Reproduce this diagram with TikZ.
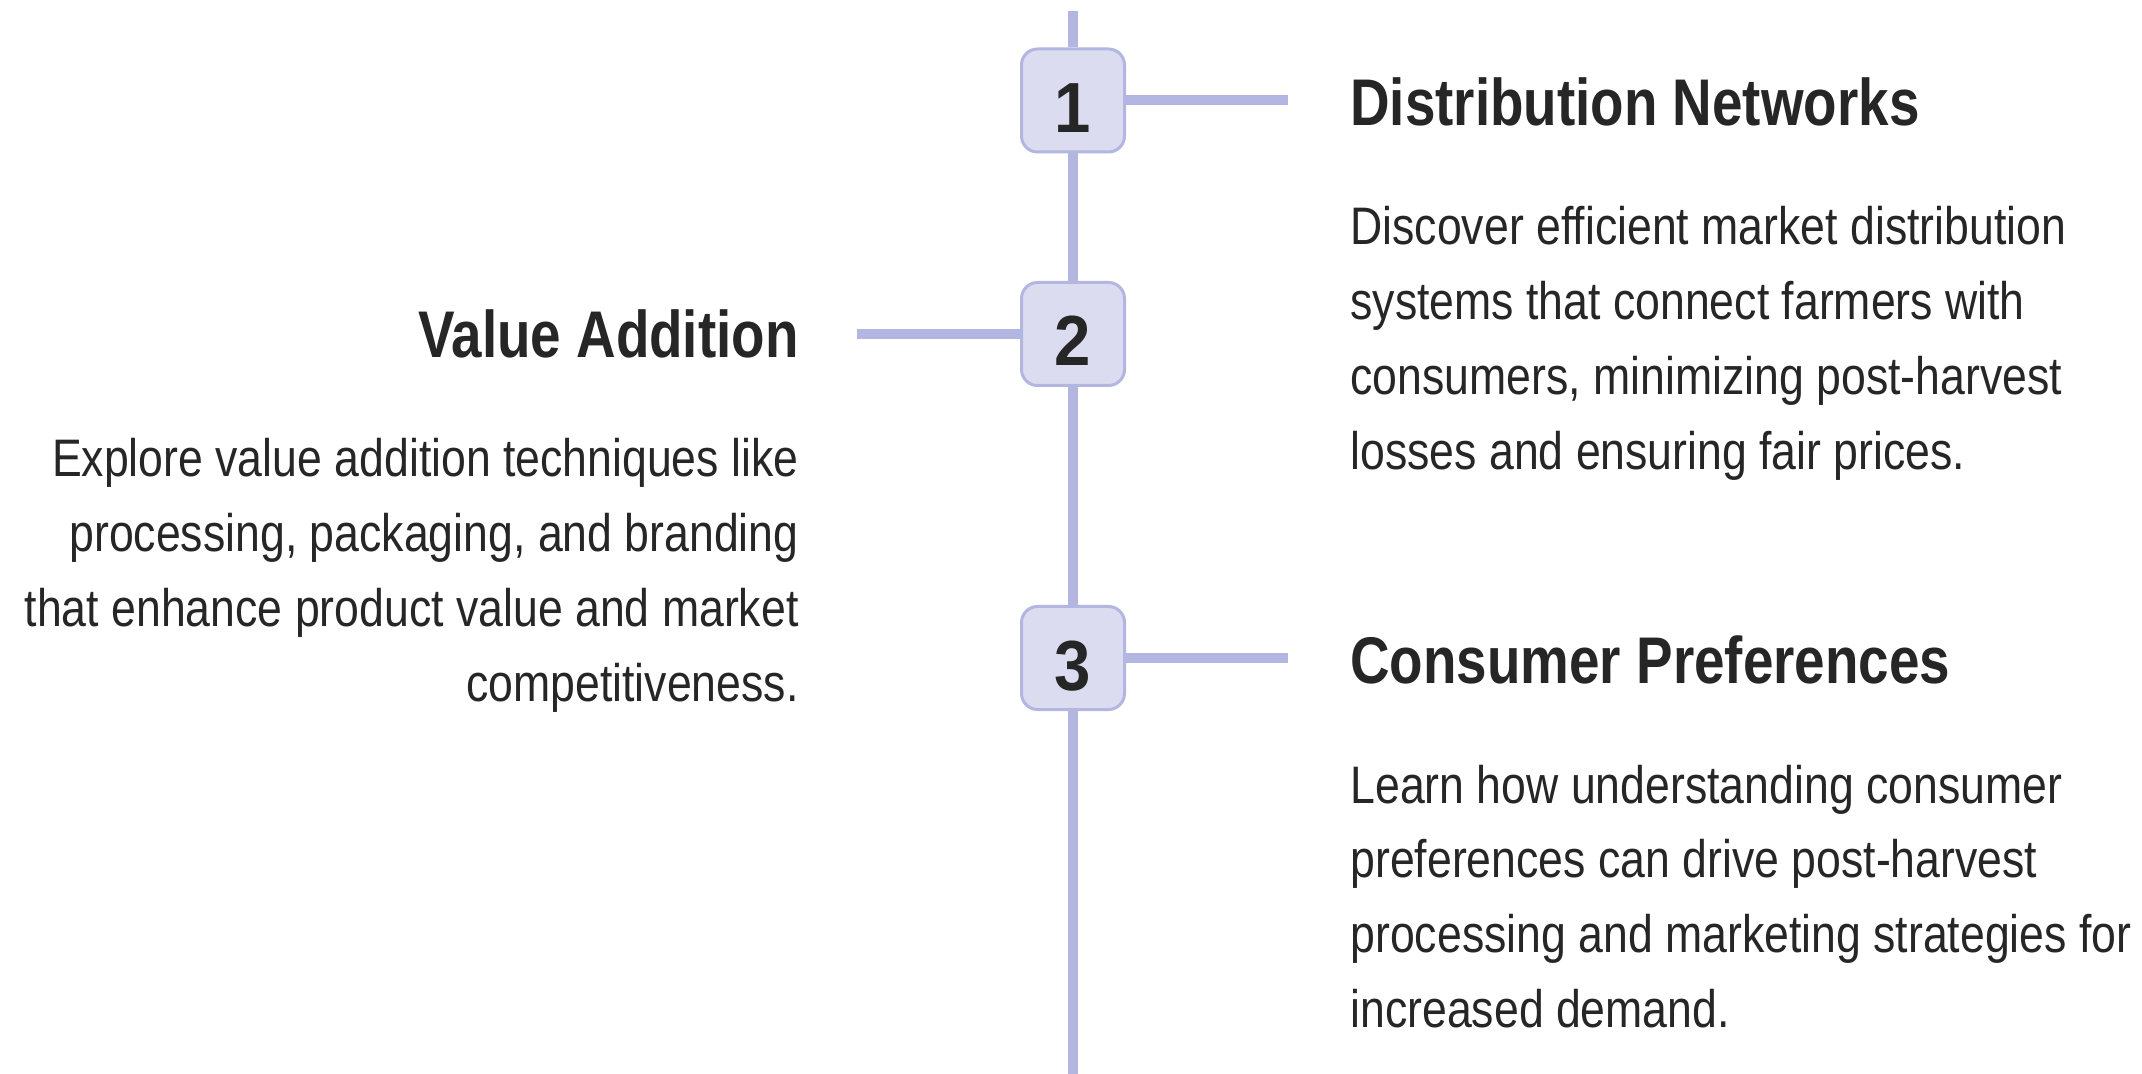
\documentclass[tikz,border=0pt]{standalone}
\usepackage{fontspec}
\setmainfont{Liberation Sans}[FakeStretch=0.83]
\newfontfamily\bodyfont{Liberation Sans}[FakeStretch=0.845]
\newfontfamily\digitfont{Liberation Sans}[FakeStretch=0.92]
\definecolor{lineC}{RGB}{179,182,224}
\definecolor{boxC}{RGB}{220,220,240}
\definecolor{txtC}{RGB}{38,38,38}
\begin{document}
\begin{tikzpicture}[x=0.5pt,y=-0.5pt,
  conn/.style={draw=lineC,line width=5pt},
  numbox/.style={draw=lineC,fill=boxC,line width=1.5pt,rounded corners=8pt,minimum width=51.5pt,minimum height=51.5pt,inner sep=0pt},
  numtxt/.style={font=\digitfont\fontsize{35.5}{40}\selectfont\bfseries,text=txtC,inner sep=0pt,anchor=base},
  ttl/.style={font=\fontsize{33}{38}\selectfont\bfseries,text=txtC,inner sep=0pt},
  body/.style={font=\bodyfont\fontsize{26.4}{30}\selectfont,text=txtC,inner sep=0pt}]
\useasboundingbox[fill=white] (0,0) rectangle (2142,1074);

\coordinate (top) at (1073,11);
\coordinate (bot) at (1073,1074);
\node[numbox] (b1) at (1073,100.5) {};
\node[numbox] (b2) at (1073,334) {};
\node[numbox] (b3) at (1073,658) {};
\coordinate (e1) at (1288,100.5);
\coordinate (e2) at (857,334);
\coordinate (e3) at (1288,658);

\draw[conn] (top) -- (b1.north);
\draw[conn] (b1.south) -- (b2.north);
\draw[conn] (b2.south) -- (b3.north);
\draw[conn] (b3.south) -- (bot);
\draw[conn] (b1.east) -- (e1);
\draw[conn] (b2.west) -- (e2);
\draw[conn] (b3.east) -- (e3);

\node[numtxt] (n1) at (1073,132.5) {1};
\node[numtxt] (n2) at (1073,366) {2};
\node[numtxt] (n3) at (1073,690) {3};

% Distribution Networks
\node[ttl,anchor=base west] (t1) at (1350,126) {Distribution Networks};
\node[body,anchor=base west] (t1a) at (1350,245) {Discover efficient market distribution};
\node[body,anchor=base west] (t1b) at (1350,319.7) {systems that connect farmers with};
\node[body,anchor=base west] (t1c) at (1350,394.4) {consumers, minimizing post-harvest};
\node[body,anchor=base west] (t1d) at (1350,469.1) {losses and ensuring fair prices.};

% Value Addition
\node[ttl,anchor=base east] (t2) at (799,358) {Value Addition};
\node[body,anchor=base east] (t2a) at (799,477) {Explore value addition techniques like};
\node[body,anchor=base east] (t2b) at (799,551.7) {processing, packaging, and branding};
\node[body,anchor=base east] (t2c) at (799,626.4) {that enhance product value and market};
\node[body,anchor=base east] (t2d) at (799,701.1) {competitiveness.};

% Consumer Preferences
\node[ttl,anchor=base west] (t3) at (1350,683) {Consumer Preferences};
\node[body,anchor=base west] (t3a) at (1350,803) {Learn how understanding consumer};
\node[body,anchor=base west] (t3b) at (1350,877.7) {preferences can drive post-harvest};
\node[body,anchor=base west] (t3c) at (1350,952.4) {processing and marketing strategies for};
\node[body,anchor=base west] (t3d) at (1350,1027.1) {increased demand.};
\end{tikzpicture}
\end{document}
